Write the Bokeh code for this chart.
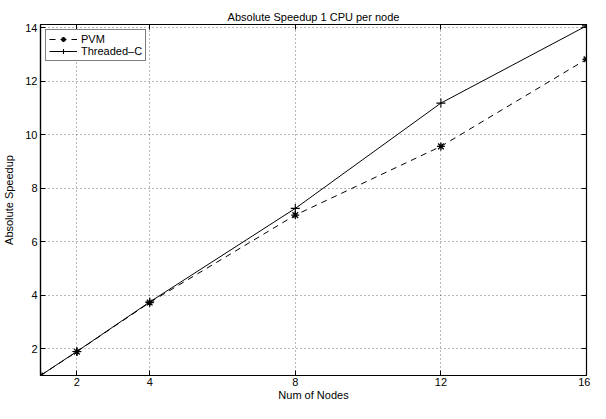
from bokeh.plotting import figure
from bokeh.models import LinearAxis, FixedTicker, Range1d, Legend, LegendItem
from bokeh.embed import file_html
from bokeh.resources import INLINE

# Data
nodes = [1, 2, 4, 8, 12, 16]
pvm = [1.0, 1.89, 3.73, 7.0, 9.57, 12.83]
threaded_c = [1.0, 1.9, 3.75, 7.25, 11.19, 14.08]
x_ticks = [2, 4, 8, 12, 16]
y_ticks = [2, 4, 6, 8, 10, 12, 14]

FONT = "Liberation Sans"

p = figure(width=590, height=403, output_backend="svg", toolbar_location=None,
           x_range=Range1d(1, 16), y_range=Range1d(1, 14.13),
           title="Absolute Speedup 1 CPU per node",
           x_axis_label="Num of Nodes", y_axis_label="Absolute Speedup",
           min_border_left=30, min_border_right=4, min_border_top=24, min_border_bottom=0)

p.title.text_font = FONT
p.title.text_font_size = "11px"
p.title.text_font_style = "normal"
p.title.text_color = "black"
p.title.align = "center"
p.title.offset = 0
p.title.standoff = 3

p.outline_line_color = "black"
p.outline_line_width = 1.2
p.background_fill_color = "white"
p.border_fill_color = "white"

for ax in (p.xaxis[0], p.yaxis[0]):
    ax.axis_line_color = "black"
    ax.axis_line_width = 1.2
    ax.major_tick_in = 5
    ax.major_tick_out = 0
    ax.major_tick_line_color = "black"
    ax.minor_tick_line_color = None
    ax.major_label_text_font = FONT
    ax.major_label_text_font_size = "11px"
    ax.major_label_text_color = "black"
    ax.axis_label_text_font = FONT
    ax.axis_label_text_font_size = "11px"
    ax.axis_label_text_font_style = "normal"
    ax.axis_label_text_color = "black"
    ax.major_label_standoff = 3

p.xaxis[0].ticker = FixedTicker(ticks=x_ticks)
p.yaxis[0].ticker = FixedTicker(ticks=y_ticks)
p.xaxis[0].major_label_standoff = 2
p.xaxis[0].axis_label_standoff = 0
p.yaxis[0].axis_label_standoff = 7

# top / right axes with ticks only
for loc, ticks in (("above", x_ticks), ("right", y_ticks)):
    a = LinearAxis(ticker=FixedTicker(ticks=ticks))
    a.major_label_text_font_size = "1px"
    a.major_label_text_color = None
    a.major_label_standoff = 0
    a.major_tick_in = 5
    a.major_tick_out = 0
    a.major_tick_line_color = "black"
    a.minor_tick_line_color = None
    a.axis_line_color = "black"
    p.add_layout(a, loc)

p.xgrid.ticker = FixedTicker(ticks=x_ticks)
p.ygrid.ticker = FixedTicker(ticks=y_ticks)
for g in (p.xgrid[0], p.ygrid[0]):
    g.grid_line_color = "black"
    g.grid_line_alpha = 0.55
    g.grid_line_dash = "1 3"
    g.grid_line_width = 1

l1 = p.line(nodes, pvm, line_color="black", line_dash="6 5", line_width=1)
s1 = p.scatter(nodes, pvm, marker="asterisk", size=8, line_color="black", line_width=1.3)
l2 = p.line(nodes, threaded_c, line_color="black", line_width=1)
s2 = p.scatter(nodes, threaded_c, marker="cross", size=9, line_color="black", line_width=1.1)

legend = Legend(items=[LegendItem(label="PVM", renderers=[l1, s1]),
                       LegendItem(label="Threaded\u2013C", renderers=[l2, s2])],
                location="top_left")
legend.label_text_font = FONT
legend.label_text_font_size = "11px"
legend.label_text_color = "black"
legend.border_line_color = "black"
legend.border_line_width = 1
legend.margin = 5
legend.padding = 3
legend.spacing = 0
legend.glyph_height = 12
legend.glyph_width = 28
legend.label_height = 12
legend.label_standoff = 4
legend.background_fill_alpha = 1
p.add_layout(legend)

open("out.html", "w").write(file_html(p, INLINE))
